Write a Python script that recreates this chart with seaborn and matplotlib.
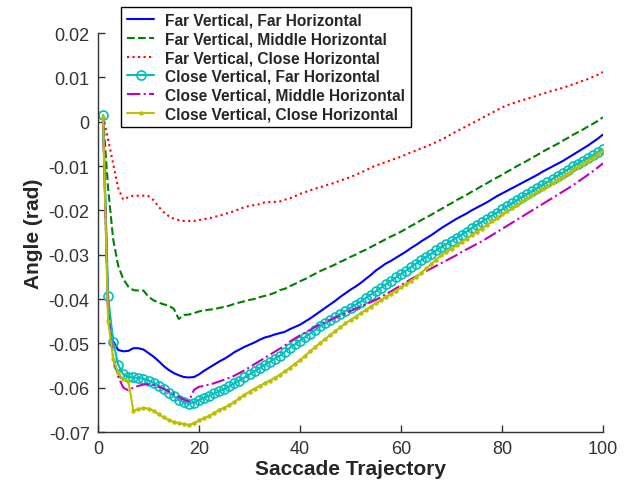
import numpy as np
import pandas as pd
import matplotlib
matplotlib.use('Agg')
import matplotlib.pyplot as plt
import seaborn as sns

# saccade trajectory samples
x_vals = list(range(1, 101))

far_far = [
    0.0005, -0.0420, -0.0495, -0.0515, -0.0518, -0.0517, -0.0511, -0.0511, -0.0514, -0.0522,
    -0.0530, -0.0540, -0.0551, -0.0560, -0.0567, -0.0572, -0.0576, -0.0577, -0.0576, -0.0570,
    -0.0562, -0.0555, -0.0548, -0.0541, -0.0535, -0.0528, -0.0520, -0.0514, -0.0508, -0.0503,
    -0.0498, -0.0492, -0.0487, -0.0484, -0.0480, -0.0477, -0.0474, -0.0468, -0.0463, -0.0458,
    -0.0451, -0.0444, -0.0436, -0.0428, -0.0420, -0.0412, -0.0404, -0.0395, -0.0387, -0.0379,
    -0.0372, -0.0364, -0.0355, -0.0346, -0.0336, -0.0328, -0.0320, -0.0314, -0.0307, -0.0300,
    -0.0293, -0.0285, -0.0278, -0.0270, -0.0263, -0.0256, -0.0248, -0.0240, -0.0233, -0.0226,
    -0.0219, -0.0213, -0.0207, -0.0200, -0.0194, -0.0188, -0.0182, -0.0175, -0.0168, -0.0162,
    -0.0156, -0.0150, -0.0144, -0.0138, -0.0132, -0.0126, -0.0120, -0.0113, -0.0107, -0.0101,
    -0.0095, -0.0089, -0.0082, -0.0075, -0.0068, -0.0061, -0.0054, -0.0046, -0.0038, -0.0029,
]

far_middle = [
    0.0010, -0.0150, -0.0265, -0.0325, -0.0355, -0.0372, -0.0380, -0.0381, -0.0381, -0.0395,
    -0.0403, -0.0408, -0.0412, -0.0415, -0.0422, -0.0445, -0.0436, -0.0435, -0.0432, -0.0428,
    -0.0426, -0.0424, -0.0423, -0.0420, -0.0418, -0.0415, -0.0411, -0.0408, -0.0405, -0.0402,
    -0.0400, -0.0396, -0.0393, -0.0390, -0.0386, -0.0380, -0.0377, -0.0371, -0.0366, -0.0360,
    -0.0355, -0.0349, -0.0343, -0.0337, -0.0332, -0.0327, -0.0322, -0.0316, -0.0311, -0.0305,
    -0.0300, -0.0294, -0.0289, -0.0283, -0.0277, -0.0271, -0.0265, -0.0259, -0.0254, -0.0248,
    -0.0242, -0.0235, -0.0229, -0.0222, -0.0216, -0.0210, -0.0203, -0.0197, -0.0190, -0.0184,
    -0.0177, -0.0171, -0.0165, -0.0158, -0.0152, -0.0145, -0.0139, -0.0132, -0.0126, -0.0120,
    -0.0113, -0.0107, -0.0100, -0.0094, -0.0088, -0.0081, -0.0075, -0.0068, -0.0062, -0.0056,
    -0.0050, -0.0043, -0.0037, -0.0030, -0.0024, -0.0018, -0.0011, -0.0005, 0.0002, 0.0010,
]

far_close = [
    0.0010, -0.0040, -0.0095, -0.0150, -0.0176, -0.0170, -0.0167, -0.0167, -0.0167, -0.0168,
    -0.0177, -0.0192, -0.0204, -0.0213, -0.0219, -0.0222, -0.0224, -0.0224, -0.0224, -0.0222,
    -0.0220, -0.0218, -0.0215, -0.0212, -0.0209, -0.0205, -0.0202, -0.0197, -0.0193, -0.0190,
    -0.0188, -0.0186, -0.0182, -0.0181, -0.0181, -0.0180, -0.0176, -0.0173, -0.0168, -0.0163,
    -0.0159, -0.0155, -0.0151, -0.0148, -0.0144, -0.0141, -0.0137, -0.0133, -0.0129, -0.0125,
    -0.0120, -0.0115, -0.0110, -0.0104, -0.0099, -0.0095, -0.0091, -0.0087, -0.0083, -0.0079,
    -0.0074, -0.0069, -0.0065, -0.0060, -0.0056, -0.0051, -0.0046, -0.0040, -0.0035, -0.0028,
    -0.0022, -0.0016, -0.0010, -0.0004, 0.0002, 0.0008, 0.0014, 0.0020, 0.0026, 0.0032,
    0.0037, 0.0041, 0.0045, 0.0048, 0.0052, 0.0055, 0.0059, 0.0063, 0.0066, 0.0070,
    0.0073, 0.0076, 0.0080, 0.0084, 0.0088, 0.0092, 0.0096, 0.0101, 0.0106, 0.0112,
]

close_far = [
    0.0015, -0.0393, -0.0497, -0.0548, -0.0570, -0.0576, -0.0577, -0.0578, -0.0580, -0.0584,
    -0.0589, -0.0596, -0.0603, -0.0611, -0.0619, -0.0627, -0.0633, -0.0637, -0.0634, -0.0628,
    -0.0623, -0.0618, -0.0613, -0.0608, -0.0603, -0.0597, -0.0590, -0.0584, -0.0577, -0.0570,
    -0.0563, -0.0556, -0.0549, -0.0542, -0.0535, -0.0528, -0.0519, -0.0510, -0.0502, -0.0494,
    -0.0486, -0.0478, -0.0470, -0.0462, -0.0455, -0.0448, -0.0441, -0.0434, -0.0427, -0.0420,
    -0.0413, -0.0406, -0.0398, -0.0390, -0.0383, -0.0375, -0.0367, -0.0359, -0.0351, -0.0344,
    -0.0336, -0.0328, -0.0320, -0.0313, -0.0305, -0.0298, -0.0290, -0.0283, -0.0276, -0.0269,
    -0.0262, -0.0255, -0.0248, -0.0240, -0.0233, -0.0226, -0.0219, -0.0212, -0.0205, -0.0198,
    -0.0191, -0.0184, -0.0177, -0.0170, -0.0163, -0.0157, -0.0150, -0.0143, -0.0136, -0.0129,
    -0.0122, -0.0115, -0.0108, -0.0101, -0.0095, -0.0088, -0.0082, -0.0076, -0.0069, -0.0062,
]

close_middle = [
    0.0010, -0.0440, -0.0530, -0.0575, -0.0600, -0.0606, -0.0600, -0.0596, -0.0593, -0.0592,
    -0.0594, -0.0598, -0.0602, -0.0608, -0.0614, -0.0621, -0.0627, -0.0631, -0.0605, -0.0598,
    -0.0596, -0.0593, -0.0590, -0.0586, -0.0582, -0.0578, -0.0573, -0.0567, -0.0561, -0.0554,
    -0.0547, -0.0540, -0.0533, -0.0526, -0.0519, -0.0512, -0.0505, -0.0496, -0.0489, -0.0482,
    -0.0476, -0.0470, -0.0463, -0.0457, -0.0452, -0.0447, -0.0442, -0.0437, -0.0432, -0.0427,
    -0.0422, -0.0417, -0.0412, -0.0407, -0.0402, -0.0396, -0.0389, -0.0383, -0.0376, -0.0369,
    -0.0362, -0.0355, -0.0349, -0.0343, -0.0337, -0.0331, -0.0325, -0.0319, -0.0313, -0.0307,
    -0.0301, -0.0294, -0.0288, -0.0282, -0.0276, -0.0270, -0.0263, -0.0256, -0.0249, -0.0242,
    -0.0235, -0.0228, -0.0221, -0.0214, -0.0207, -0.0200, -0.0193, -0.0186, -0.0179, -0.0172,
    -0.0165, -0.0158, -0.0151, -0.0144, -0.0136, -0.0128, -0.0120, -0.0112, -0.0103, -0.0094,
]

close_close = [
    0.0010, -0.0450, -0.0535, -0.0568, -0.0580, -0.0585, -0.0652, -0.0648, -0.0646, -0.0647,
    -0.0652, -0.0660, -0.0667, -0.0673, -0.0677, -0.0680, -0.0682, -0.0684, -0.0680, -0.0674,
    -0.0669, -0.0664, -0.0657, -0.0650, -0.0645, -0.0639, -0.0632, -0.0624, -0.0616, -0.0609,
    -0.0602, -0.0596, -0.0590, -0.0584, -0.0578, -0.0571, -0.0563, -0.0555, -0.0546, -0.0538,
    -0.0528, -0.0518, -0.0508, -0.0499, -0.0490, -0.0481, -0.0472, -0.0464, -0.0455, -0.0447,
    -0.0440, -0.0432, -0.0425, -0.0417, -0.0410, -0.0403, -0.0395, -0.0388, -0.0381, -0.0374,
    -0.0367, -0.0359, -0.0351, -0.0341, -0.0331, -0.0321, -0.0311, -0.0301, -0.0294, -0.0287,
    -0.0279, -0.0272, -0.0264, -0.0256, -0.0248, -0.0241, -0.0233, -0.0225, -0.0217, -0.0209,
    -0.0202, -0.0195, -0.0188, -0.0180, -0.0173, -0.0166, -0.0159, -0.0152, -0.0145, -0.0138,
    -0.0131, -0.0124, -0.0117, -0.0110, -0.0103, -0.0096, -0.0088, -0.0081, -0.0073, -0.0066,
]

labels = [
    'Far Vertical, Far Horizontal',
    'Far Vertical, Middle Horizontal',
    'Far Vertical, Close Horizontal',
    'Close Vertical, Far Horizontal',
    'Close Vertical, Middle Horizontal',
    'Close Vertical, Close Horizontal',
]
x_ticks = [0, 20, 40, 60, 80, 100]
y_ticks = [-0.07, -0.06, -0.05, -0.04, -0.03, -0.02, -0.01, 0, 0.01, 0.02]
y_tick_labels = ['-0.07', '-0.06', '-0.05', '-0.04', '-0.03', '-0.02', '-0.01', '0', '0.01', '0.02']

sns.set_style('ticks')
plt.rcParams['font.family'] = ['Liberation Sans', 'DejaVu Sans']

fig = plt.figure(figsize=(6.33, 4.85), dpi=100)
ax = fig.add_axes([98 / 633, 1 - 433 / 485, 505 / 633, 399 / 485])

# line styles mimic the matlab defaults of the original figure
styles = [
    dict(color='#0000ff', ls='-', marker='None'),
    dict(color='#008000', ls='--', marker='None'),
    dict(color='#ff0000', ls=':', marker='None'),
    dict(color='#00bfbf', ls='-', marker='o', ms=6.5, mfc='none'),
    dict(color='#bf00bf', ls='-.', marker='None'),
    dict(color='#bfbf00', ls='-', marker='.', ms=4),
]
series = [far_far, far_middle, far_close, close_far, close_middle, close_close]

for vals, lab, st in zip(series, labels, styles):
    df = pd.DataFrame({'x': x_vals, 'y': vals})
    sns.lineplot(data=df, x='x', y='y', ax=ax, label=lab, linewidth=1.5, color=st['color'])
    line = ax.lines[-1]
    line.set_linestyle(st['ls'])
    line.set_marker(st['marker'])
    # seaborn gives markers a white edge by default, so set it back
    line.set_markeredgecolor(st['color'])
    line.set_markeredgewidth(1.2)
    if 'ms' in st:
        line.set_markersize(st['ms'])
    line.set_markerfacecolor(st.get('mfc', st['color']))

ax.set_xlim(0, 100)
ax.set_ylim(-0.07, 0.02)
ax.set_xticks(x_ticks)
ax.set_yticks(y_ticks)
ax.set_yticklabels(y_tick_labels)
ax.tick_params(direction='in', length=5, width=1, labelsize=13, colors='#333333', pad=6)
sns.despine(ax=ax)
for sp in ['left', 'bottom']:
    ax.spines[sp].set_color('#333333')
    ax.spines[sp].set_linewidth(1.0)

ax.set_xlabel('Saccade Trajectory', fontsize=15, fontweight='bold', labelpad=1)
ax.set_ylabel('Angle (rad)', fontsize=15, fontweight='bold', labelpad=4)

leg = ax.legend(loc='upper left', bbox_to_anchor=(121 / 633, 1 - 8 / 485),
                bbox_transform=fig.transFigure, borderaxespad=0, frameon=True,
                fancybox=False, edgecolor='black', framealpha=1,
                prop={'weight': 'bold', 'size': 11.2}, handlelength=1.75,
                labelspacing=0.235, borderpad=0.38, handletextpad=0.7)
leg.get_frame().set_linewidth(1.0)

fig.savefig('out.png', dpi=100)
